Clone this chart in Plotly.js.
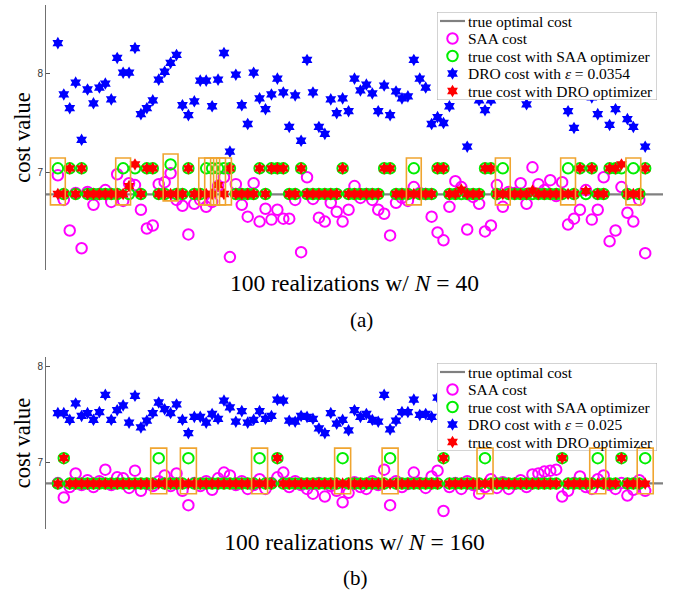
<!DOCTYPE html>
<html><head><meta charset="utf-8">
<script src="https://cdn.plot.ly/plotly-3.0.1.min.js"></script>
<style>html,body{margin:0;padding:0;background:#fff}#chart{width:677px;height:593px}</style>
</head><body><div id="chart"></div>
<script>
// ---------- data ----------
const realization = Array.from({length:100},(_,k)=>k+1);
const xRange = [-1, 103];
const optimalCost = 6.777;
const epsA = '0.0354';
const epsB = '0.025';

// panel (a): N = 40
const saaCostA = [
6.97,6.72,6.41,6.79,6.23,6.80,6.67,6.78,6.82,6.70,
6.98,6.71,6.89,6.87,6.62,6.43,6.46,6.88,6.90,6.99,
6.72,6.66,6.37,6.68,6.72,6.65,6.70,6.86,6.95,6.14,
6.88,6.67,6.55,6.89,6.50,6.63,6.52,6.62,6.53,6.53,
6.72,6.19,6.95,6.73,6.54,6.50,6.69,6.60,6.50,6.62,
6.86,6.74,6.78,6.72,6.62,6.58,6.36,6.69,6.74,6.71,
6.85,6.79,6.78,6.55,6.39,6.31,6.65,6.91,6.85,6.42,
6.75,6.68,6.40,6.46,6.87,6.65,6.80,6.79,6.89,6.68,
7.05,6.88,6.82,6.92,6.76,6.90,6.47,6.53,6.62,6.82,
6.52,6.62,6.95,6.30,6.41,6.85,6.59,6.50,6.72,6.18];
const saaTrueA = [
7.04,6.78,7.04,6.78,7.04,6.78,6.78,6.78,6.78,6.78,
6.78,7.04,6.78,7.04,6.78,7.04,7.04,6.78,6.78,7.08,
6.78,6.78,7.04,6.78,6.78,7.04,7.04,7.04,7.04,7.04,
6.78,6.78,6.78,6.78,7.04,6.78,7.04,7.04,7.04,6.78,
6.78,7.04,6.78,6.78,6.78,6.78,6.78,6.78,7.04,6.78,
6.78,6.78,6.78,6.78,6.78,7.04,7.04,6.78,6.78,6.78,
7.04,6.78,6.78,6.78,7.04,7.04,6.78,6.78,6.78,6.78,
6.78,6.78,7.04,7.04,6.78,7.04,6.78,6.78,6.78,6.78,
6.78,6.78,6.78,6.78,6.78,6.78,7.04,6.78,7.04,6.78,
7.04,6.78,6.78,7.04,7.04,7.04,6.78,7.04,6.78,7.04];
const droCostA = [
8.31,7.79,7.65,7.91,7.33,7.84,7.70,7.86,7.90,7.74,
8.16,8.01,8.01,8.26,7.59,7.65,7.73,7.94,8.02,8.11,
8.19,7.68,7.58,7.72,7.93,7.93,7.67,7.94,8.21,7.21,
7.99,7.68,7.49,8.01,7.75,7.64,7.79,7.95,7.81,7.46,
7.78,7.32,8.14,7.81,7.46,7.39,7.74,7.60,7.75,7.62,
7.95,7.83,7.89,7.80,7.62,7.88,7.58,7.82,7.75,7.77,
8.14,7.95,7.86,7.49,7.56,7.50,7.67,7.85,7.92,7.26,
7.80,7.73,7.63,7.73,7.88,7.95,7.82,8.02,7.90,7.69,
7.85,7.97,7.80,8.05,7.88,7.92,7.62,7.45,7.83,7.95,
7.76,7.59,7.87,7.48,7.64,7.80,7.54,7.46,7.82,7.26];
const droTrueA = [
6.78,6.78,7.04,6.78,7.04,6.78,6.78,6.78,6.78,6.78,
6.78,6.78,6.86,7.08,6.78,7.04,7.04,6.78,6.78,6.78,
6.78,6.78,7.04,6.78,6.78,6.78,6.78,6.87,6.78,7.04,
6.78,6.78,6.78,6.78,7.04,6.78,7.04,7.04,7.04,6.78,
6.78,7.04,6.78,6.78,6.78,6.78,6.78,6.78,7.04,6.78,
6.78,6.78,6.78,6.78,6.78,7.04,7.04,6.78,6.78,6.78,
6.78,6.78,6.78,6.78,7.04,7.04,6.78,6.78,6.825,6.78,
6.78,6.78,7.04,7.04,6.78,6.78,6.78,6.78,6.78,6.78,
6.815,6.78,6.78,6.78,6.78,6.78,6.78,6.78,7.04,6.81,
7.04,6.78,6.78,7.04,7.04,7.08,6.78,6.78,6.78,7.04];

// panel (b): N = 160
const saaCostB = [
6.78,6.63,6.74,6.88,6.76,6.81,6.74,6.80,6.92,6.76,
6.84,6.83,6.73,6.91,6.70,6.77,6.75,6.80,6.86,6.75,
6.88,6.70,6.55,6.78,6.75,6.80,6.71,6.83,6.89,6.86,
6.76,6.80,6.72,6.76,6.82,6.72,6.78,6.84,6.89,6.74,
6.80,6.76,6.72,6.67,6.78,6.64,6.75,6.70,6.58,6.68,
6.79,6.74,6.72,6.80,6.76,6.92,6.55,6.80,6.74,6.77,
6.89,6.78,6.73,6.85,6.91,6.49,6.74,6.78,6.72,6.80,
6.76,6.67,6.74,6.82,6.73,6.79,6.72,6.77,6.81,6.74,
6.87,6.88,6.90,6.91,6.92,6.64,6.70,6.78,6.85,6.74,
6.72,6.82,6.86,6.76,6.72,6.78,6.65,6.71,6.81,6.70];
const saaTrueB = [
6.775,7.04,6.775,6.775,6.775,6.775,6.775,6.775,6.775,6.775,
6.775,6.775,6.775,6.775,6.775,6.775,6.775,7.04,6.775,6.775,
6.775,6.775,7.04,6.775,6.775,6.775,6.775,6.775,6.775,6.775,
6.775,6.775,6.775,6.775,7.04,6.775,6.775,7.04,6.775,6.775,
6.775,6.775,6.775,6.775,6.775,6.775,6.775,6.775,7.04,6.775,
6.775,6.775,6.775,6.775,6.775,6.775,7.04,6.775,6.775,6.775,
6.775,6.775,6.775,6.775,6.775,7.04,6.775,6.775,6.775,6.775,
6.775,6.775,7.04,6.775,6.775,6.775,6.775,6.775,6.775,6.775,
6.775,6.775,6.775,6.775,6.775,7.04,6.775,6.775,6.775,6.775,
6.775,7.04,6.775,6.775,6.775,7.04,6.775,6.775,6.775,7.04];
const droCostB = [
7.51,7.51,7.44,7.61,7.48,7.51,7.44,7.52,7.70,7.44,
7.54,7.59,7.41,7.69,7.36,7.43,7.51,7.62,7.55,7.51,
7.60,7.44,7.30,7.47,7.47,7.41,7.50,7.45,7.64,7.57,
7.42,7.53,7.41,7.44,7.53,7.45,7.48,7.65,7.64,7.43,
7.42,7.48,7.47,7.45,7.35,7.30,7.51,7.40,7.44,7.33,
7.54,7.47,7.50,7.44,7.42,7.70,7.34,7.43,7.52,7.52,
7.65,7.49,7.50,7.47,7.67,7.48,7.52,7.45,7.56,7.50,
7.43,7.58,7.47,7.53,7.40,7.55,7.49,7.61,7.46,7.52,
7.44,7.57,7.50,7.38,7.54,7.48,7.59,7.45,7.51,7.42,
7.56,7.49,7.53,7.46,7.60,7.47,7.52,7.44,7.55,7.50];
const droTrueB = [
6.775,7.04,6.775,6.775,6.775,6.775,6.775,6.775,6.775,6.775,
6.775,6.775,6.775,6.775,6.775,6.775,6.775,6.775,6.775,6.775,
6.775,6.775,6.775,6.775,6.775,6.775,6.775,6.775,6.775,6.775,
6.775,6.775,6.775,6.775,6.775,6.775,6.775,7.04,6.775,6.775,
6.775,6.775,6.775,6.775,6.775,6.775,6.775,6.775,6.775,6.775,
6.775,6.775,6.775,6.775,6.775,6.775,6.775,6.775,6.775,6.775,
6.775,6.775,6.775,6.775,6.775,7.04,6.775,6.775,6.775,6.775,
6.775,6.775,6.775,6.775,6.775,6.775,6.775,6.775,6.775,6.775,
6.775,6.775,6.775,6.775,6.775,7.04,6.775,6.775,6.775,6.775,
6.775,6.775,6.775,6.775,6.775,7.04,6.775,6.775,6.775,6.775];

// ---------- styles / geometry ----------
const serif = 'Liberation Serif, Times New Roman, serif';
const sans = 'Liberation Sans, Arial, sans-serif';
const C = {opt:'#808080', saa:'#ff00ff', saaTrue:'#00ee00', dro:'#0000ff', droTrue:'#ff0000', box:'#f0a530'};
const W = 677, H = 593, M = {l:46, r:14, t:5, b:64};
const PW = W - M.l - M.r, PH = H - M.t - M.b;
const xdom = (a, b) => [(a - M.l) / PW, (b - M.l) / PW];
const ydom = (top, bot) => [(H - M.b - bot) / PH, (H - M.b - top) / PH];

function panel(xa, ya, saaCost, saaTrue, droCost, droTrue, eps){
  return [
    {x:xRange, y:[optimalCost, optimalCost], xaxis:xa, yaxis:ya, mode:'lines',
     name:'true optimal cost', line:{color:C.opt, width:2.2}},
    {x:realization, y:saaCost, xaxis:xa, yaxis:ya, mode:'markers', name:'SAA cost',
     marker:{symbol:'circle-open', size:10.5, color:C.saa, line:{width:2}}},
    {x:realization, y:saaTrue, xaxis:xa, yaxis:ya, mode:'markers', name:'true cost with SAA optimizer',
     marker:{symbol:'circle-open', size:10.5, color:C.saaTrue, line:{width:2}}},
    {x:realization, y:droCost, xaxis:xa, yaxis:ya, mode:'markers', name:'DRO cost with <i>ε</i> = ' + eps,
     marker:{symbol:'hexagram', size:9.5, color:C.dro, line:{width:0}}},
    {x:realization, y:droTrue, xaxis:xa, yaxis:ya, mode:'markers', name:'true cost with DRO optimizer',
     marker:{symbol:'hexagram', size:9.5, color:C.droTrue, line:{width:0}}}
  ];
}

function boxes(xa, ya, saaTrue, droTrue, hw){
  const s = [];
  realization.forEach((r, k) => {
    if (saaTrue[k] - droTrue[k] > 0.1) {
      s.push({type:'rect', xref:xa, yref:ya, x0:r - hw, x1:r + hw,
              y0:saaTrue[k] - 0.37, y1:saaTrue[k] + 0.105,
              line:{color:C.box, width:1.6}, fillcolor:'rgba(0,0,0,0)', layer:'above'});
    }
  });
  return s;
}

// legend drawn in its own small subplot (box 220 x 88 px)
const LEG_W = 220, LEG_H = 88, ROW0 = 9, ROW = 17.5;
function legendParts(traces, xa, ya){
  const glyphs = [], notes = [];
  traces.forEach((t, k) => {
    const cy = ROW0 + k * ROW;
    if (t.mode === 'lines') {
      glyphs.push({x:[3, 28], y:[cy, cy], xaxis:xa, yaxis:ya, mode:'lines', line:t.line, hoverinfo:'skip'});
    } else {
      glyphs.push({x:[15.5], y:[cy], xaxis:xa, yaxis:ya, mode:'markers', marker:t.marker, hoverinfo:'skip'});
    }
    notes.push({text:t.name, xref:xa, yref:ya, x:29, y:cy, xanchor:'left', yanchor:'middle', showarrow:false,
                font:{family:serif, size:15.5, color:'#000'}});
  });
  const frame = {type:'rect', xref:xa, yref:ya, x0:0, x1:LEG_W, y0:0, y1:LEG_H, layer:'below',
                 fillcolor:'#ffffff', line:{color:'#a8a8a8', width:1}};
  return {glyphs, notes, frame};
}

const tracesA = panel('x', 'y', saaCostA, saaTrueA, droCostA, droTrueA, epsA);
const tracesB = panel('x2', 'y2', saaCostB, saaTrueB, droCostB, droTrueB, epsB);
const legA = legendParts(tracesA, 'x3', 'y3');
const legB = legendParts(tracesB, 'x4', 'y4');

const data = [].concat(tracesA, tracesB, legA.glyphs, legB.glyphs);

const xBase = {range:xRange, showline:false, showgrid:false, zeroline:false, showticklabels:false, ticks:'', fixedrange:true};
const yBase = {showline:true, linecolor:'#707070', linewidth:1, showgrid:false, zeroline:false,
  ticks:'inside', ticklen:4, tickcolor:'#555', tickvals:[7, 8], ticktext:['7', '8'],
  tickfont:{family:sans, size:10, color:'#333'}};
const legAxis = {visible:false, showgrid:false, zeroline:false, fixedrange:true};

const layout = {
  width:W, height:H, margin:M,
  paper_bgcolor:'#fff', plot_bgcolor:'rgba(0,0,0,0)', showlegend:false,
  xaxis: Object.assign({}, xBase, {domain:[0, 1], anchor:'y',
    title:{text:'100 realizations w/ <i>N</i> = 40', font:{family:serif, size:23.5, color:'#000'}, standoff:4}}),
  yaxis: Object.assign({}, yBase, {domain:ydom(5, 270), anchor:'x', range:[6.009, 8.697],
    title:{text:'cost value', font:{family:serif, size:22.5, color:'#000'}, standoff:0}}),
  xaxis2: Object.assign({}, xBase, {domain:[0, 1], anchor:'y2',
    title:{text:'100 realizations w/ <i>N</i> = 160', font:{family:serif, size:23.5, color:'#000'}, standoff:4}}),
  yaxis2: Object.assign({}, yBase, {domain:ydom(357, 529), anchor:'x2', range:[6.302, 8.094],
    title:{text:'cost value', font:{family:serif, size:22.5, color:'#000'}, standoff:0}}),
  xaxis3: Object.assign({}, legAxis, {domain:xdom(437, 657), anchor:'y3', range:[0, LEG_W]}),
  yaxis3: Object.assign({}, legAxis, {domain:ydom(12, 100), anchor:'x3', range:[LEG_H, 0]}),
  xaxis4: Object.assign({}, legAxis, {domain:xdom(437, 657), anchor:'y4', range:[0, LEG_W]}),
  yaxis4: Object.assign({}, legAxis, {domain:ydom(363, 451), anchor:'x4', range:[LEG_H, 0]}),
  shapes: [].concat(boxes('x', 'y', saaTrueA, droTrueA, 1.25), boxes('x2', 'y2', saaTrueB, droTrueB, 1.35),
                    [legA.frame, legB.frame]),
  annotations: [].concat(legA.notes, legB.notes, [
    {text:'(a)', xref:'paper', yref:'paper', x:0.512, y:0.399, xanchor:'center', yanchor:'middle', showarrow:false, font:{family:serif, size:21, color:'#000'}},
    {text:'(b)', xref:'paper', yref:'paper', x:0.501, y:-0.0935, xanchor:'center', yanchor:'middle', showarrow:false, font:{family:serif, size:21, color:'#000'}}
  ])
};

Plotly.newPlot('chart', data, layout, {displayModeBar:false, staticPlot:true});
</script></body></html>
